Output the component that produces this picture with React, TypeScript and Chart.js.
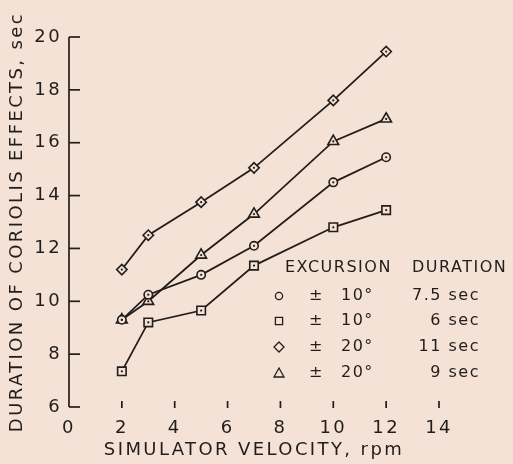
import React, { useEffect, useRef } from "react";
import { Chart, registerables } from "chart.js";

Chart.register(...registerables);

const velocity = [2, 3, 5, 7, 10, 12];
const circle75 = [9.3, 10.25, 11.0, 12.1, 14.5, 15.45];
const square6 = [7.35, 9.2, 9.65, 11.35, 12.8, 13.45];
const diamond11 = [11.2, 12.5, 13.75, 15.05, 17.6, 19.45];
const triangle9 = [9.3, 10.0, 11.75, 13.3, 16.05, 16.9];

const excursions = ["± 10°", "± 10°", "± 20°", "± 20°"];
const durations = ["7.5 sec", "6 sec", "11 sec", "9 sec"];
const legendHeader = ["EXCURSION", "DURATION"];
const markerStyles = ["circle", "rect", "rectRot", "triangle"];

const xTitle = "SIMULATOR VELOCITY, rpm";
const yTitle = "DURATION OF CORIOLIS EFFECTS, sec";

const BG = "#f4e2d7";
const INK = "#221d1b";
const FONT = "'DejaVu Sans', sans-serif";

function drawMarker(ctx: CanvasRenderingContext2D, style: string, x: number, y: number) {
  ctx.beginPath();
  if (style === "circle") {
    ctx.arc(x, y, 3.6, 0, Math.PI * 2);
  } else if (style === "rect") {
    ctx.rect(x - 3.6, y - 3.6, 7.2, 7.2);
  } else if (style === "rectRot") {
    ctx.moveTo(x, y - 5);
    ctx.lineTo(x + 5, y);
    ctx.lineTo(x, y + 5);
    ctx.lineTo(x - 5, y);
    ctx.closePath();
  } else {
    ctx.moveTo(x, y - 5);
    ctx.lineTo(x + 5, y + 4);
    ctx.lineTo(x - 5, y + 4);
    ctx.closePath();
  }
  ctx.stroke();
}

const decor = {
  id: "decor",
  beforeDraw(chart: any) {
    chart.ctx.letterSpacing = "2.4px";
  },
  afterDatasetsDraw(chart: any) {
    const ctx = chart.ctx as CanvasRenderingContext2D;
    ctx.save();
    ctx.fillStyle = INK;
    chart.data.datasets.forEach((_: any, i: number) => {
      const meta = chart.getDatasetMeta(i);
      meta.data.forEach((pt: any) => {
        ctx.beginPath();
        ctx.arc(pt.x, pt.y, 1.1, 0, Math.PI * 2);
        ctx.fill();
      });
    });
    ctx.restore();
  },
  afterDraw(chart: any) {
    const ctx = chart.ctx as CanvasRenderingContext2D;
    const { x, y } = chart.scales;
    ctx.save();
    ctx.strokeStyle = INK;
    ctx.lineWidth = 1.7;
    const ax = x.getPixelForValue(0);
    ctx.beginPath();
    ctx.moveTo(ax, y.getPixelForValue(20));
    ctx.lineTo(ax, y.getPixelForValue(6));
    ctx.stroke();
    y.ticks.forEach((t: any) => {
      const py = y.getPixelForValue(t.value);
      ctx.beginPath();
      ctx.moveTo(ax, py);
      ctx.lineTo(ax + 11, py);
      ctx.stroke();
    });
    const by = y.getPixelForValue(6);
    x.ticks.forEach((t: any) => {
      if (t.value <= 0) return;
      const px = x.getPixelForValue(t.value);
      ctx.beginPath();
      ctx.moveTo(px, by - 6);
      ctx.lineTo(px, by + 1);
      ctx.stroke();
    });

    ctx.fillStyle = INK;
    ctx.textBaseline = "middle";
    ctx.font = `16px ${FONT}`;
    (ctx as any).letterSpacing = "1.5px";
    ctx.textAlign = "left";
    ctx.fillText(legendHeader[0], 285, 268);
    ctx.fillText(legendHeader[1], 412, 268);
    const rows = [296, 321, 347, 373];
    ctx.lineWidth = 1.3;
    rows.forEach((ry, i) => {
      drawMarker(ctx, markerStyles[i], 279, ry);
      ctx.textAlign = "left";
      ctx.fillText(excursions[i].split(" ")[0], 309, ry);
      ctx.fillText(excursions[i].split(" ")[1], 341, ry);
      ctx.textAlign = "right";
      ctx.fillText(durations[i], 480, ry);
    });
    ctx.restore();
  },
};

export default function App() {
  const ref = useRef<HTMLCanvasElement>(null);
  useEffect(() => {
    document.body.style.margin = "0";
    document.body.style.background = BG;
    const mk = (label: string, data: number[], style: string, r: number) => ({
      label,
      data: velocity.map((v, i) => ({ x: v, y: data[i] })),
      borderColor: INK,
      borderWidth: 1.8,
      pointStyle: style,
      pointRadius: r,
      pointBorderWidth: 1.6,
      pointBackgroundColor: BG,
      pointBorderColor: INK,
      tension: 0,
      fill: false,
    });
    const chart = new Chart(ref.current!, {
      type: "line",
      data: {
        datasets: [
          mk(durations[0], circle75, "circle", 4.2),
          mk(durations[1], square6, "rect", 6),
          mk(durations[2], diamond11, "rectRot", 5.2),
          mk(durations[3], triangle9, "triangle", 6.2),
        ] as any,
      },
      options: {
        responsive: false,
        animation: false,
        events: [],
        layout: { padding: { left: 0, top: 37, right: 74, bottom: 0 } },
        plugins: { legend: { display: false }, tooltip: { enabled: false } },
        scales: {
          x: {
            type: "linear",
            min: 0,
            max: 14,
            afterFit: (s: any) => {
              s.height = 57;
            },
            grid: { display: false, drawTicks: false },
            border: { display: false },
            ticks: {
              stepSize: 2,
              autoSkip: false,
              padding: 11,
              color: INK,
              font: { family: FONT, size: 18 },
              maxRotation: 0,
            },
            title: {
              display: true,
              text: xTitle,
              color: INK,
              font: { family: FONT, size: 18 },
              padding: { top: 0, bottom: 3 },
            },
          },
          y: {
            type: "linear",
            min: 6,
            max: 20,
            afterFit: (s: any) => {
              s.width = 69;
            },
            grid: { display: false, drawTicks: false },
            border: { display: false },
            ticks: {
              stepSize: 2,
              padding: 7,
              color: INK,
              font: { family: FONT, size: 18 },
            },
            title: {
              display: true,
              text: yTitle,
              color: INK,
              font: { family: FONT, size: 18 },
              padding: { top: 7, bottom: 0 },
            },
          },
        },
      },
      plugins: [decor],
    } as any);
    return () => chart.destroy();
  }, []);
  return (
    <div style={{ width: 513, height: 464, background: BG }}>
      <canvas ref={ref} width={513} height={464} style={{ display: "block" }} />
    </div>
  );
}
